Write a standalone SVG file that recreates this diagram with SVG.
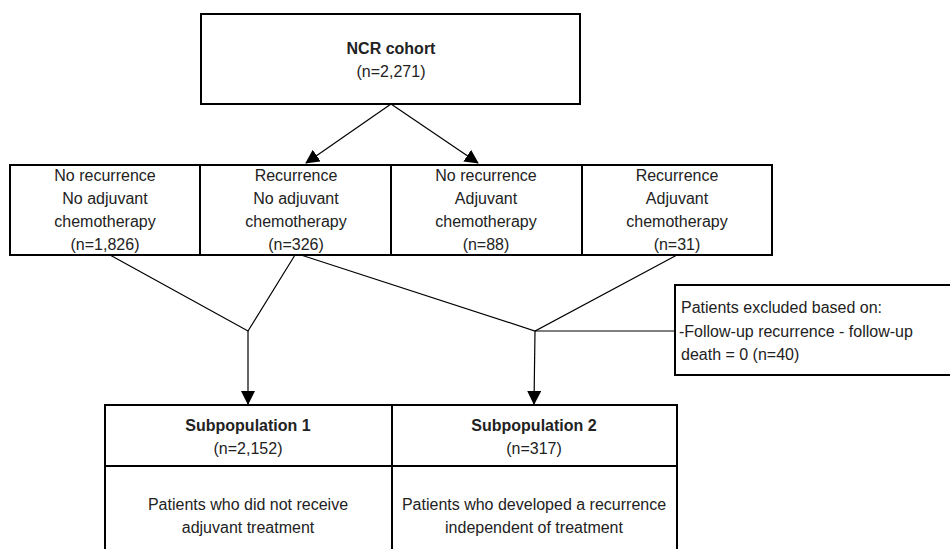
<svg xmlns="http://www.w3.org/2000/svg" width="950" height="549" viewBox="0 0 950 549">
<style>
.box{fill:#fff;stroke:#000;stroke-width:2}
.ln{fill:none;stroke:#000;stroke-width:1.2}
text{font-family:"Liberation Sans",Arial,sans-serif;font-size:16px;fill:#222}
.c{text-anchor:middle}
.b{font-weight:bold}
</style>
<defs>
<marker id="ah" markerUnits="userSpaceOnUse" markerWidth="14" markerHeight="14" viewBox="0 0 14 14" refX="13" refY="7" orient="auto">
<path d="M0,0 L14,7 L0,14 Z" fill="#000"/>
</marker>
</defs>
<rect width="950" height="549" fill="#fff"/>
<g id="connectors">
<line class="ln" x1="391" y1="104" x2="306" y2="163" marker-end="url(#ah)"/>
<line class="ln" x1="391" y1="104" x2="478" y2="163" marker-end="url(#ah)"/>
<polyline class="ln" points="110,255 248,331 295,255"/>
<polyline class="ln" points="301,255 535,331 677,255"/>
<line class="ln" x1="535" y1="331" x2="675" y2="331"/>
<line class="ln" x1="248" y1="331" x2="248" y2="404" marker-end="url(#ah)"/>
<line class="ln" x1="535" y1="331" x2="534" y2="404" marker-end="url(#ah)"/>
</g>
<g id="ncr">
<rect class="box" x="201" y="14" width="379" height="90"/>
<text class="c b" x="391" y="54">NCR cohort</text>
<text class="c" x="391" y="77">(n=2,271)</text>
</g>
<g id="g1">
<rect class="box" x="10" y="165" width="190" height="90"/>
<text class="c" x="105" y="181">No recurrence</text>
<text class="c" x="105" y="204">No adjuvant</text>
<text class="c" x="105" y="227">chemotherapy</text>
<text class="c" x="105" y="250">(n=1,826)</text>
</g>
<g id="g2">
<rect class="box" x="200" y="165" width="191" height="90"/>
<text class="c" x="296" y="181">Recurrence</text>
<text class="c" x="296" y="204">No adjuvant</text>
<text class="c" x="296" y="227">chemotherapy</text>
<text class="c" x="296" y="250">(n=326)</text>
</g>
<g id="g3">
<rect class="box" x="391" y="165" width="191" height="90"/>
<text class="c" x="486" y="181">No recurrence</text>
<text class="c" x="486" y="204">Adjuvant</text>
<text class="c" x="486" y="227">chemotherapy</text>
<text class="c" x="486" y="250">(n=88)</text>
</g>
<g id="g4">
<rect class="box" x="582" y="165" width="190" height="90"/>
<text class="c" x="677" y="181">Recurrence</text>
<text class="c" x="677" y="204">Adjuvant</text>
<text class="c" x="677" y="227">chemotherapy</text>
<text class="c" x="677" y="250">(n=31)</text>
</g>
<g id="excluded">
<rect class="box" x="675" y="285" width="290" height="90"/>
<text x="681" y="313">Patients excluded based on:</text>
<text x="679" y="337">-Follow-up recurrence - follow-up</text>
<text x="681" y="360">death = 0 (n=40)</text>
</g>
<g id="sub1">
<path class="box" d="M105,560 V405 H392 V560"/>
<line class="box" x1="105" y1="466" x2="392" y2="466"/>
<text class="c b" x="248" y="431">Subpopulation 1</text>
<text class="c" x="248" y="454">(n=2,152)</text>
<text class="c" x="248" y="510">Patients who did not receive</text>
<text class="c" x="248" y="533">adjuvant treatment</text>
</g>
<g id="sub2">
<path class="box" d="M392,560 V405 H677 V560"/>
<line class="box" x1="392" y1="466" x2="677" y2="466"/>
<text class="c b" x="534" y="431">Subpopulation 2</text>
<text class="c" x="534" y="454">(n=317)</text>
<text class="c" x="534" y="510">Patients who developed a recurrence</text>
<text class="c" x="534" y="533">independent of treatment</text>
</g>
</svg>
